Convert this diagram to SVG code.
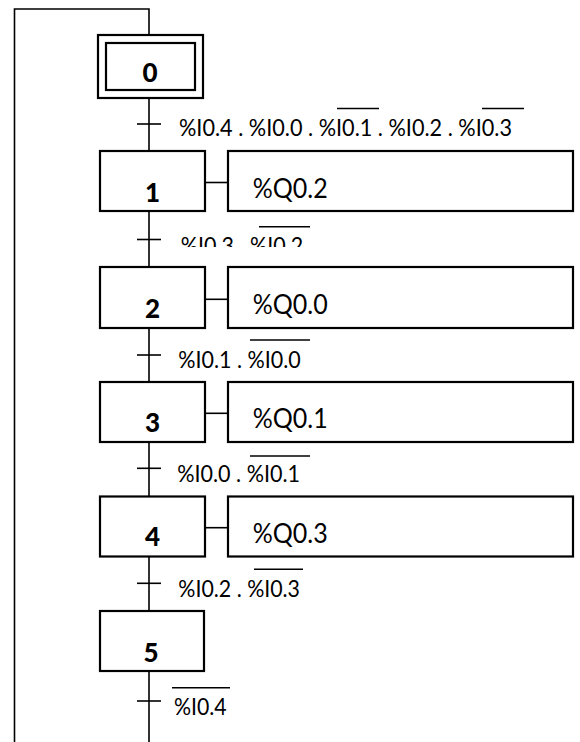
<svg xmlns="http://www.w3.org/2000/svg" width="580" height="742" viewBox="0 0 580 742">
<style>
.box{fill:#fff;stroke:#000;stroke-width:2.2}
.ln{fill:none;stroke:#000;stroke-width:1.6}
.num{font-family:Lato,"Liberation Sans",sans-serif;font-weight:900;font-size:26px;text-anchor:middle;fill:#000}
.act{font-family:Lato,"Liberation Sans",sans-serif;font-size:26px;fill:#000}
.tr{font-family:Lato,"Liberation Sans",sans-serif;font-size:23px;fill:#000}
.ov{stroke:#000;stroke-width:1.5}
</style>
<defs>
<clipPath id="c1"><rect x="170" y="200" width="200" height="47"/></clipPath>
</defs>
<rect width="580" height="742" fill="#fff"/>
<g id="connectors">
<path class="ln" d="M14.5,742 V9 H149 V742"/>
<line class="ln" x1="205" y1="182.5" x2="228" y2="182.5"/>
<line class="ln" x1="205" y1="299.3" x2="228" y2="299.3"/>
<line class="ln" x1="205" y1="413.3" x2="228" y2="413.3"/>
<line class="ln" x1="205" y1="527.7" x2="228" y2="527.7"/>
</g>
<g id="step0">
<rect class="box" x="98" y="35" width="105" height="63"/>
<rect class="box" x="106" y="43" width="89" height="47"/>
<text class="num" x="150" y="81.5">0</text>
</g>
<g id="t0">
<line class="ln" x1="137" y1="124" x2="161" y2="124"/>
<text class="tr" x="179" y="135.7" textLength="333" lengthAdjust="spacingAndGlyphs">%I0.4 . %I0.0 . %I0.1 . %I0.2 . %I0.3</text>
<line class="ov" x1="337" y1="108.5" x2="379" y2="108.5"/>
<line class="ov" x1="482" y1="108.5" x2="524" y2="108.5"/>
</g>
<g id="step1">
<rect class="box" x="100" y="151" width="105" height="60"/>
<text class="num" x="152.5" y="201.5">1</text>
</g>
<g id="action1">
<rect class="box" x="228" y="151" width="345" height="60"/>
<text class="act" x="252.7" y="198" textLength="75" lengthAdjust="spacingAndGlyphs">%Q0.2</text>
</g>
<g id="t1">
<line class="ln" x1="137" y1="239.5" x2="161" y2="239.5"/>
<text class="tr" x="180.7" y="254" textLength="122.6" lengthAdjust="spacingAndGlyphs" clip-path="url(#c1)">%I0.3 . %I0.2</text>
<line class="ov" x1="259" y1="226.7" x2="310" y2="226.7"/>
</g>
<g id="step2">
<rect class="box" x="100" y="267" width="105" height="61"/>
<text class="num" x="152.5" y="318.3">2</text>
</g>
<g id="action2">
<rect class="box" x="228" y="267" width="345" height="61"/>
<text class="act" x="252.7" y="314.3" textLength="75" lengthAdjust="spacingAndGlyphs">%Q0.0</text>
</g>
<g id="t2">
<line class="ln" x1="137" y1="355" x2="161" y2="355"/>
<text class="tr" x="178.3" y="368.3" textLength="122.4" lengthAdjust="spacingAndGlyphs">%I0.1 . %I0.0</text>
<line class="ov" x1="250" y1="340" x2="310" y2="340"/>
</g>
<g id="step3">
<rect class="box" x="100" y="382" width="105" height="60"/>
<text class="num" x="152.5" y="431.7">3</text>
</g>
<g id="action3">
<rect class="box" x="228" y="382" width="345" height="60"/>
<text class="act" x="252.7" y="428.3" textLength="75" lengthAdjust="spacingAndGlyphs">%Q0.1</text>
</g>
<g id="t3">
<line class="ln" x1="137" y1="468.3" x2="161" y2="468.3"/>
<text class="tr" x="177.3" y="482.3" textLength="122.7" lengthAdjust="spacingAndGlyphs">%I0.0 . %I0.1</text>
<line class="ov" x1="250" y1="456" x2="310" y2="456"/>
</g>
<g id="step4">
<rect class="box" x="100" y="496.5" width="105" height="60"/>
<text class="num" x="152.5" y="546">4</text>
</g>
<g id="action4">
<rect class="box" x="228" y="496.5" width="345" height="60"/>
<text class="act" x="252.7" y="543.3" textLength="75" lengthAdjust="spacingAndGlyphs">%Q0.3</text>
</g>
<g id="t4">
<line class="ln" x1="137" y1="583.3" x2="161" y2="583.3"/>
<text class="tr" x="178.3" y="597.3" textLength="121.7" lengthAdjust="spacingAndGlyphs">%I0.2 . %I0.3</text>
<line class="ov" x1="254" y1="569.3" x2="303" y2="569.3"/>
</g>
<g id="step5">
<rect class="box" x="100" y="611" width="104" height="60"/>
<text class="num" x="151" y="661.7">5</text>
</g>
<g id="t5">
<line class="ln" x1="137" y1="701" x2="161" y2="701"/>
<text class="tr" x="174" y="715" textLength="52.7" lengthAdjust="spacingAndGlyphs">%I0.4</text>
<line class="ov" x1="172" y1="687.7" x2="230" y2="687.7"/>
</g>
</svg>
